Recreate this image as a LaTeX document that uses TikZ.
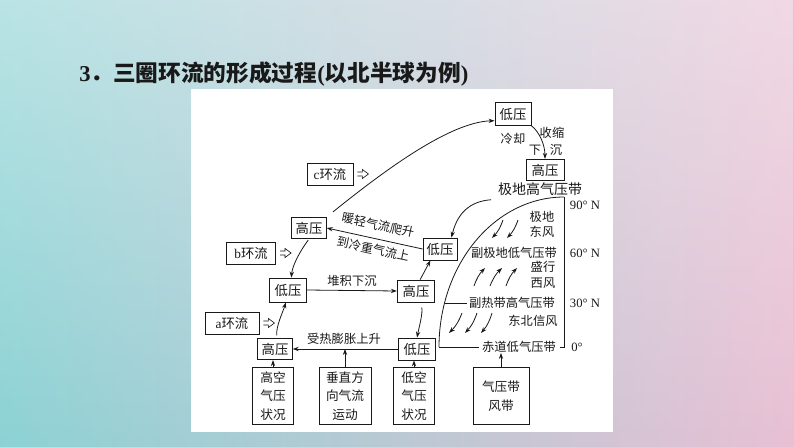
\documentclass[tikz,border=0pt]{standalone}
\usepackage{fontspec}
\setmainfont{Liberation Serif}
\newfontfamily\cjk{Noto Sans CJK SC}
\usetikzlibrary{arrows.meta,fadings}
\definecolor{bgL}{RGB}{140,210,212}
\definecolor{bgR}{RGB}{232,192,212}
\definecolor{ink}{RGB}{25,25,25}
\begin{document}
\begin{tikzpicture}[x=0.75pt,y=-0.75pt,
  box/.style={draw=ink, line width=0.6pt, inner sep=0pt, minimum width=26pt, minimum height=16pt, font=\cjk\fontsize{10}{12}\selectfont, text=ink},
  tallbox/.style={box, minimum height=43pt, align=center, font=\cjk\fontsize{9.5}{14}\selectfont},
  lbl/.style={inner sep=0pt, font=\cjk\fontsize{9.2}{11}\selectfont, text=ink},
  deg/.style={inner sep=0pt, font=\fontsize{9.5}{11}\selectfont, text=ink},
  arr/.style={draw=ink, line width=0.6pt, -{Stealth[length=4.5pt,width=3.2pt]}},
  ln/.style={draw=ink, line width=0.6pt},
  hollow/.pic={\draw[ink, line width=0.5pt] (0,-2) -- (5,-2) -- (5,-4.5) -- (11,0) -- (5,4.5) -- (5,2) -- (0,2);}
]
\useasboundingbox (0,0) rectangle (794,447);
% background
\shade[left color=bgL, right color=bgR] (0,0) rectangle (794,447);
\fill[white, path fading=south, fill opacity=0.4] (0,0) rectangle (794,447);
% panel
\fill[white] (191,89) rectangle (613,432);
% title
\node[anchor=west, inner sep=0pt, text=ink, font=\fontsize{17}{20}\selectfont\bfseries] (title) at (79,74) {3{\cjk ．三圈环流的形成过程}({\cjk 以北半球为例})};

% top boxes
\node[box, minimum width=27pt, minimum height=17pt] (dyTop) at (513,114) {低压};
\node[box, minimum width=28.5pt] (gyTop) at (545,170) {高压};
\node[lbl] (lq) at (513,139) {冷却};
\node[lbl] (ss) at (552,133) {收缩};
\node[lbl] (xia) at (535,150) {下};
\node[lbl] (chen) at (556,150) {沉};

% right zone labels
\node[inner sep=0pt, font=\cjk\fontsize{10.5}{12}\selectfont, text=ink] (jdg) at (540,189) {极地高气压带};
\node[deg] (d90) at (585,205) {90° N};
\node[lbl] (jd1) at (542,217) {极地};
\node[lbl] (jd2) at (542,232) {东风};
\node[lbl] (fjd) at (514,253) {副极地低气压带};
\node[deg] (d60) at (585,253) {60° N};
\node[lbl] (sx1) at (543,267) {盛行};
\node[lbl] (sx2) at (543,283) {西风};
\node[lbl] (frd) at (512,303) {副热带高气压带};
\node[deg] (d30) at (585,303) {30° N};
\node[lbl] (dbx) at (533,321) {东北信风};
\node[lbl] (cd) at (519,347) {赤道低气压带};
\node[deg] (d0) at (577,347) {0°};

% left boxes
\node[box, minimum width=34.5pt, minimum height=16.5pt] (c) at (330,174) {{\rmfamily c}环流};
\node[box] (gyML) at (309,228) {高压};
\node[box, minimum width=25.5pt, minimum height=16.5pt] (dyMR) at (440,249) {低压};
\node[box, minimum width=37pt, minimum height=16.5pt] (b) at (251,253) {{\rmfamily b}环流};
\node[box, minimum width=28pt, minimum height=18pt] (dyLL) at (288,290) {低压};
\node[box, minimum width=28pt, minimum height=16.5pt] (gyLM) at (416,291) {高压};
\node[box, minimum width=28pt, minimum height=16.5pt] (dyB) at (417,349) {低压};
\node[box] (gyB) at (275,349) {高压};
\node[box, minimum width=40.5pt, minimum height=16.5pt] (a) at (232,323) {{\rmfamily a}环流};

% bottom boxes
\node[tallbox, minimum width=31pt] (gk) at (273,396) {高空\\气压\\状况};
\node[tallbox, minimum width=39pt] (cz) at (345,396) {垂直方\\向气流\\运动};
\node[tallbox, minimum width=31pt] (dk) at (414,396) {低空\\气压\\状况};
\node[tallbox, minimum width=42pt] (qy) at (501,396) {气压带\\风带};

% hollow arrows
\pic at ([xshift=3pt]c.east) {hollow};
\pic at ([xshift=3pt]b.east) {hollow};
\pic at ([xshift=3pt]a.east) {hollow};

% connectors
\draw[arr] (dyTop.south east) .. controls +(8,6) and +(0,-14) .. (gyTop.north);
\draw[arr, shorten <=6pt] (gyML.north east) .. controls (385,170) and (450,122) .. (dyTop.200);
\draw[arr] ([xshift=-5pt,yshift=-3pt]jdg.south west) .. controls +(-28,2) and +(4,-16) .. (dyMR.45);
\draw[arr] (dyMR.west) -- (gyML.east);
\node[lbl, rotate=-12] (t1) at (378,225) {暖轻气流爬升};
\node[lbl, rotate=-12] (t2) at (373,249) {到冷重气流上};
\draw[arr, shorten <=1pt] (gyML.south) .. controls +(-9,12) and +(1,-12) .. (dyLL.75);
\draw[arr] (dyLL.east) -- (gyLM.west);
\node[lbl] (t3) at (352,281) {堆积下沉};
\draw[arr] (gyLM.70) -- (dyMR.-130);
\draw[arr, shorten <=4pt] (gyLM.-70) .. controls +(3,10) and +(2,-10) .. (dyB.north);
\draw[arr] (dyB.west) -- (gyB.east);
\node[lbl] (t4) at (344,339) {受热膨胀上升};
\draw[arr, shorten <=2pt] (gyB.80) .. controls +(-1,-12) and +(-3,10) .. (dyLL.-100);

\draw[arr] (gk.north) -- (gk.north |- gyB.south);
\draw[arr] (cz.north) -- (cz.north |- gyB.east);
\draw[arr] (dk.north) -- (dk.north |- dyB.south);
\draw[arr] (qy.north) -- (qy.north |- cd.south);

% pressure belt outline
\draw[ln] plot[domain=0:90, samples=60] ({564-125*cos(\x)},{347-150*sin(\x)});
\draw[ln] (564,197) -- (564,347) -- (560,347);
\coordinate (arcB) at (439,347);
\coordinate (arc30) at (444.5,303);
\draw[ln, shorten >=2pt] (arcB) -- (cd.west);
\draw[ln, shorten >=1.5pt] (arc30) -- (frd.west);

% wind arrows
\coordinate (p1a) at (503,220); \coordinate (p1b) at (492,238);
\coordinate (p2a) at (518,220); \coordinate (p2b) at (507,238);
\draw[arr] (p1a) to[bend left=12] (p1b);
\draw[arr] (p2a) to[bend left=12] (p2b);
\coordinate (w1a) at (474,286); \coordinate (w1b) at (485,268);
\coordinate (w2a) at (490,286); \coordinate (w2b) at (502,268);
\coordinate (w3a) at (506,286); \coordinate (w3b) at (517,268);
\draw[arr] (w1a) to[bend left=12] (w1b);
\draw[arr] (w2a) to[bend left=12] (w2b);
\draw[arr] (w3a) to[bend left=12] (w3b);
\coordinate (e1a) at (462,313); \coordinate (e1b) at (449,333);
\coordinate (e2a) at (477,313); \coordinate (e2b) at (465,333);
\coordinate (e3a) at (492,313); \coordinate (e3b) at (481,333);
\draw[arr] (e1a) to[bend left=12] (e1b);
\draw[arr] (e2a) to[bend left=12] (e2b);
\draw[arr] (e3a) to[bend left=12] (e3b);
\end{tikzpicture}
\end{document}
